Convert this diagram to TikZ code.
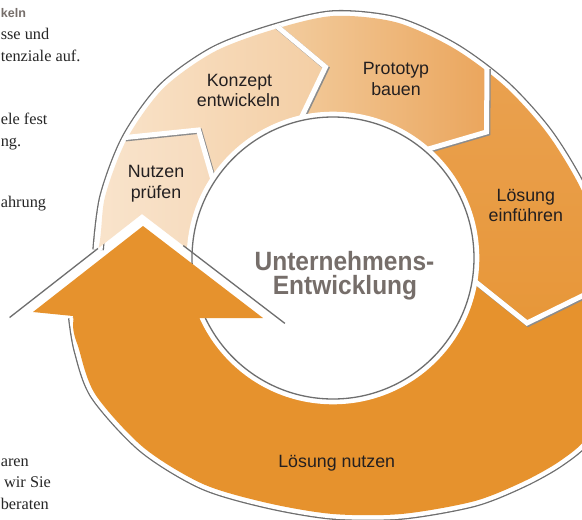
\documentclass[tikz,border=0pt]{standalone}
\usepackage{fontspec}
\usepackage{graphicx}
\setmainfont{Liberation Serif}
\newfontfamily\lsans{Liberation Sans}
\usetikzlibrary{calc}
\definecolor{nutA}{RGB}{249,228,204}
\definecolor{nutB}{RGB}{246,218,188}
\definecolor{konA}{RGB}{249,226,200}
\definecolor{konB}{RGB}{243,205,162}
\definecolor{proA}{RGB}{243,207,163}
\definecolor{proB}{RGB}{234,164,90}
\definecolor{loeA}{RGB}{234,162,82}
\definecolor{loeB}{RGB}{231,150,55}
\definecolor{orng}{RGB}{230,146,45}
\definecolor{lineg}{RGB}{110,110,110}
\definecolor{txt}{RGB}{35,31,32}
\definecolor{ttl}{RGB}{118,110,106}
\def\outerclosed{plot[smooth cycle] coordinates {(98.1,249.8) (105.0,196.9) (126.9,139) (163.3,88.3) (214,51.9) (271.9,30) (333,16) (396.2,22.3) (454,48.4) (504.8,86.2) (547.8,134) (582.2,191.2) (608,258) (615,333.6) (607,386.9) (588,436) (560,461) (522.6,482) (473.5,501.4) (401.3,514) (333,514) (267.5,503) (203,484) (143.5,447.5) (95.7,395) (79.3,350.3) (73.8,317.8)}}
\def\outeropen{plot[smooth] coordinates {(98.1,249.8) (105.0,196.9) (126.9,139) (163.3,88.3) (214,51.9) (271.9,30) (333,16) (396.2,22.3) (454,48.4) (504.8,86.2) (547.8,134) (582.2,191.2) (608,258) (615,333.6) (607,386.9) (588,436) (560,461) (522.6,482) (473.5,501.4) (401.3,514) (333,514) (267.5,503) (203,484) (143.5,447.5) (95.7,395) (79.3,350.3) (73.8,317.8)}}
\newcommand\gapline[3]{%
  \draw[gapshadow] ($(#1)+(1.2,1.2)$) -- ($(#2)+(1.2,1.2)$) -- ($(#3)+(1.2,1.2)$);
  \draw[gapwhite] (#1) -- (#2) -- (#3);}
\begin{document}
\begin{tikzpicture}[x=1pt,y=-1pt,
  lbl/.style={font=\lsans\fontsize{17.8}{20}\selectfont, text=txt, anchor=base, inner sep=0pt},
  ttlsty/.style={font=\lsans\bfseries\fontsize{24.5}{26}\selectfont, text=ttl, anchor=base, inner sep=0pt, text depth=0pt},
  margin/.style={font=\fontsize{16.3}{20}\selectfont, text=black!85, anchor=base west, inner sep=0pt},
  gapshadow/.style={draw=black!45, line width=5.2pt, line join=miter},
  gapwhite/.style={draw=white, line width=5pt, line join=miter},
  greyline/.style={draw=lineg, line width=1.3pt}]
\useasboundingbox (0,0) rectangle (582,520);
\clip (0,0) rectangle (582,520);
\fill[white] (0,0) rectangle (582,520);
% key points
\coordinate (C) at (333,258);
\coordinate (I2) at (211.5,175); \coordinate (T2) at (198.5,130); \coordinate (F2) at (-144,165);
\coordinate (I3) at (303.5,113); \coordinate (T3) at (325.5,67); \coordinate (F3) at (90.5,-125.5);
\coordinate (I4) at (433.5,147.5); \coordinate (T4) at (486.5,132); \coordinate (F4) at (489,-228);
\coordinate (I5) at (477,283); \coordinate (T5) at (527,323); \coordinate (F5) at (792,193);
\coordinate (S2) at (213.1,180.4); \coordinate (E2) at (124.5,137.6);
\coordinate (S3) at (300.9,118.5); \coordinate (E3) at (276,25.5);
\coordinate (S4) at (427.1,149.4); \coordinate (E4) at (487,68);
\coordinate (S5) at (471,278.2); \coordinate (E5) at (641,267);
\coordinate (A) at (142,214); \coordinate (AL) at (-15.6,337.2); \coordinate (AR) at (221.4,274.8);
\coordinate (T) at (143,226); \coordinate (L) at (33,312); \coordinate (R) at (263,318);
\coordinate (NL1) at (97.9,248.5); \coordinate (NL2) at (9.6,317.5);
\coordinate (NR1) at (183.3,245.6); \coordinate (NR2) at (284.9,323.4);
% outer grey line
\draw[lineg, line width=1.3pt, double=white, double distance=9pt] \outeropen;
% segments
\begin{scope}
  \clip \outerclosed;
  \clip (C) -- (I2) -- (T2) -- (F2) -- (AL) -- (A) -- (AR) -- cycle;
  \shade[left color=nutA, right color=nutB] (90,120) rectangle (225,260);
\end{scope}
\begin{scope}
  \clip \outerclosed;
  \clip (C) -- (I3) -- (T3) -- (F3) -- (-250,-250) -- (F2) -- (T2) -- (I2) -- cycle;
  \shade[left color=konA, right color=konB] (115,20) rectangle (335,190);
\end{scope}
\begin{scope}
  \clip \outerclosed;
  \clip (C) -- (I4) -- (T4) -- (F4) -- (F3) -- (T3) -- (I3) -- cycle;
  \shade[left color=proA, right color=proB] (265,10) rectangle (495,160);
\end{scope}
\begin{scope}
  \clip \outerclosed;
  \clip (C) -- (I5) -- (T5) -- (F5) -- (900,193) -- (900,-228) -- (F4) -- (T4) -- (I4) -- cycle;
  \shade[top color=loeA, bottom color=loeB] (420,40) rectangle (630,345);
\end{scope}
\begin{scope}
  \clip \outerclosed;
  \clip (C) -- (I5) -- (T5) -- (F5) -- (900,193) -- (900,800) -- (-200,800) -- (-200,316) -- (333,316) -- cycle;
  \fill[orng] (0,150) rectangle (640,530);
\end{scope}
% gaps between segments
\gapline{S2}{T2}{E2}
\gapline{S3}{T3}{E3}
\gapline{S4}{T4}{E4}
\gapline{S5}{T5}{E5}
% inner disk
\fill[white] (C) circle[radius=146.3];
\draw[greyline] (C) circle[radius=141];
% arrow head of "Loesung nutzen"
\fill[orng] (L) -- (T) -- (R) -- (199,318) -- (200,322) -- (74,322) -- (73,316) -- cycle;
\draw[greyline] (NL1) -- (NL2);
\draw[greyline] (NR1) -- (NR2);
% labels
\node[lbl] (n1) at (156,177.7) {Nutzen};
\node[lbl] (n2) at (156,198) {prüfen};
\node[lbl] (k1) at (239.5,86) {Konzept};
\node[lbl] (k2) at (238.5,106.5) {entwickeln};
\node[lbl] (p1) at (396,74.5) {Prototyp};
\node[lbl] (p2) at (396,95.5) {bauen};
\node[lbl] (l1) at (525.8,201.7) {Lösung};
\node[lbl] (l2) at (525.8,221.7) {einführen};
\node[lbl] (u1) at (336.7,467.3) {Lösung nutzen};
\node[ttlsty] (t1) at (344.5,270) {\scalebox{1}[1.08]{Unternehmens-}};
\node[ttlsty] (t2) at (345,294.5) {\scalebox{1}[1.08]{Entwicklung}};
% page text at the left
\node[font=\lsans\bfseries\fontsize{12.5}{14}\selectfont, text=ttl, anchor=base west, inner sep=0pt] (m0) at (0.8,17.8) {keln};
\node[margin] (m1) at (0.6,39) {sse und};
\node[margin] (m2) at (0.6,61) {tenziale auf.};
\node[margin] (m3) at (0.6,124) {ele fest};
\node[margin] (m4) at (0.6,146.7) {ng.};
\node[margin] (m5) at (0.6,207) {ahrung};
\node[margin] (m6) at (0.6,466) {aren};
\node[margin] (m7) at (4,487.7) {wir Sie};
\node[margin] (m8) at (0.6,509.3) {beraten};
\end{tikzpicture}
\end{document}
